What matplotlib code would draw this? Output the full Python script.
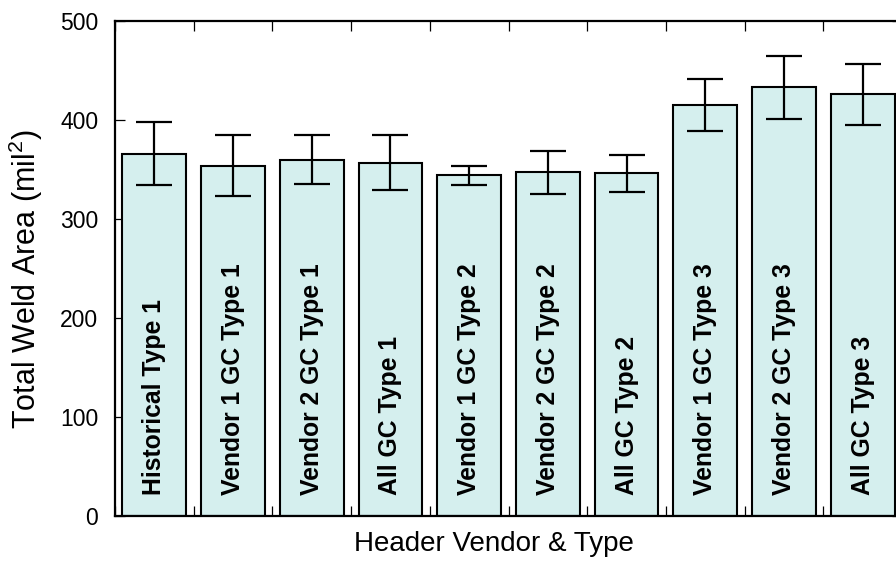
import os
import numpy as np
import matplotlib
matplotlib.use("Agg")
import matplotlib.pyplot as plt
from matplotlib import font_manager as fm

plt.rcParams["font.family"] = ["Liberation Sans", "DejaVu Sans"]
plt.rcParams["mathtext.fontset"] = "custom"
plt.rcParams["mathtext.rm"] = "Liberation Sans"
plt.rcParams["mathtext.it"] = "Liberation Sans:italic"

# Mean total weld area and spread per header group
groups = [
    "Historical Type 1",
    "Vendor 1 GC Type 1",
    "Vendor 2 GC Type 1",
    "All GC Type 1",
    "Vendor 1 GC Type 2",
    "Vendor 2 GC Type 2",
    "All GC Type 2",
    "Vendor 1 GC Type 3",
    "Vendor 2 GC Type 3",
    "All GC Type 3",
]
mean_area = [366, 354, 360, 357, 344, 347, 346, 415, 433, 426]
err_area = [32, 31, 25, 28, 9.5, 21.5, 19, 26, 32, 31]

y_ticks = [0, 100, 200, 300, 400, 500]

# regular-width Liberation Sans Bold for the in-bar labels
bold_file = None
for f in fm.fontManager.ttflist:
    if os.path.basename(f.fname) == "LiberationSans-Bold.ttf":
        bold_file = f.fname
        break
bold_prop = (fm.FontProperties(fname=bold_file, size=17.8) if bold_file
             else fm.FontProperties(family="DejaVu Sans", weight="bold", size=15))

W, H = 896, 566
fig = plt.figure(figsize=(W / 100, H / 100), dpi=100)
ax = fig.add_axes([115 / W, 1 - 516 / H, 787 / W, 495 / H])

x = np.arange(len(groups))
ax.bar(x, mean_area, width=0.81, color="#d5efee", edgecolor="black", linewidth=1.5,
       zorder=2)
ax.errorbar(x, mean_area, yerr=err_area, fmt="none", ecolor="black",
            elinewidth=1.6, capsize=13, capthick=1.6, zorder=3)

for xi, name in zip(x, groups):
    ax.text(xi, 21, name, rotation=90, ha="center", va="bottom",
            fontproperties=bold_prop, zorder=4)

ax.set_xlim(-0.5, len(groups) - 0.5)
ax.set_ylim(0, 500)
ax.set_yticks(y_ticks)
ax.set_xticks(np.arange(len(groups) + 1) - 0.5)
ax.set_xticklabels([])
ax.tick_params(axis="both", direction="in", length=7, width=0.9,
               top=True, right=True, labelsize=16.5, pad=12)

for s in ax.spines.values():
    s.set_linewidth(1.6)

ax.set_xlabel("Header Vendor & Type", fontsize=20)
ax.xaxis.set_label_coords(0.482, -0.03)
ax.set_ylabel("Total Weld Area (mil$^2$)", fontsize=22)
ax.yaxis.set_label_coords(-0.089, 0.479)

fig.savefig("out.png", dpi=100)
